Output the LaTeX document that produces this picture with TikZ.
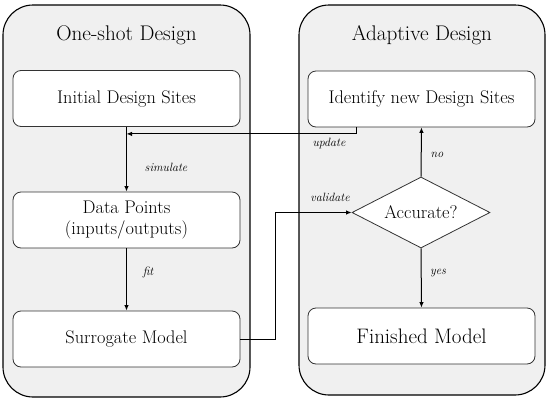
\documentclass[tikz,border=0pt]{standalone}
\usetikzlibrary{arrows.meta,shapes.geometric,positioning}
\definecolor{panelgray}{HTML}{F0F0F0}
\tikzset{panel/.style={draw=black,fill=panelgray,rounded corners=30pt,line width=1.1pt},
 paneltitle/.style={font=\fontsize{21.2}{24}\selectfont},
 stepbox/.style={draw=black!80,fill=white,rounded corners=8pt,line width=.8pt,minimum width=227pt,minimum height=56pt,align=center,font=\fontsize{18.3}{21.5}\selectfont},
 decision/.style={diamond,draw=black!80,fill=white,line width=.8pt,aspect=1.95,minimum width=138pt,minimum height=71pt,inner sep=0pt,font=\fontsize{18.3}{21.5}\selectfont},
 flow/.style={line width=1pt,-{Latex[length=5.5pt,width=4.5pt]}},
 edgelabel/.style={font=\fontsize{12}{14}\selectfont\itshape}}
\begin{document}
\begin{tikzpicture}[x=1pt,y=-1pt]
\useasboundingbox (0,0) rectangle (550,402);
% panels
\draw[panel] (3,5) rectangle (250,397);
\draw[panel] (299,5) rectangle (545,395);
\node[paneltitle] (oneshot) at (126.5,35) {One-shot Design};
\node[paneltitle] (adaptive) at (422,35) {Adaptive Design};
% one-shot steps
\node[stepbox] (init) at (126.5,98.5) {Initial Design Sites};
\node[stepbox] (data) at (126.5,220) {Data Points\\(inputs/outputs)};
\node[stepbox] (surr) at (126.5,339) {Surrogate Model};
% adaptive steps
\node[stepbox] (ident) at (421.5,99) {Identify new Design Sites};
\node[decision] (acc) at (421,212.5) {Accurate?};
\node[stepbox,font=\fontsize{21}{24}\selectfont] (final) at (421.5,336) {Finished Model};
% connectors
\coordinate (join) at ([yshift=-7pt]init.south);
\coordinate (vbend) at (275,339);
\draw[flow] (init.south) -- (data.north);
\draw[flow] (data.south) -- (surr.north);
\draw[flow] ([xshift=-65.5pt]ident.south) |- (join);
\draw[flow] (surr.east) -- (vbend) |- (acc.west);
\draw[flow] (acc.north) -- (ident.south);
\draw[flow] (acc.south) -- (final.north);
% labels
\node[edgelabel] (simlab) at (166,167) {simulate};
\node[edgelabel] (fitlab) at (148,272) {fit};
\node[edgelabel] (updlab) at (329,143) {update};
\node[edgelabel] (vallab) at (330,197) {validate};
\node[edgelabel] (nolab) at (437,155) {no};
\node[edgelabel] (yeslab) at (438,273) {yes};
\end{tikzpicture}
\end{document}
